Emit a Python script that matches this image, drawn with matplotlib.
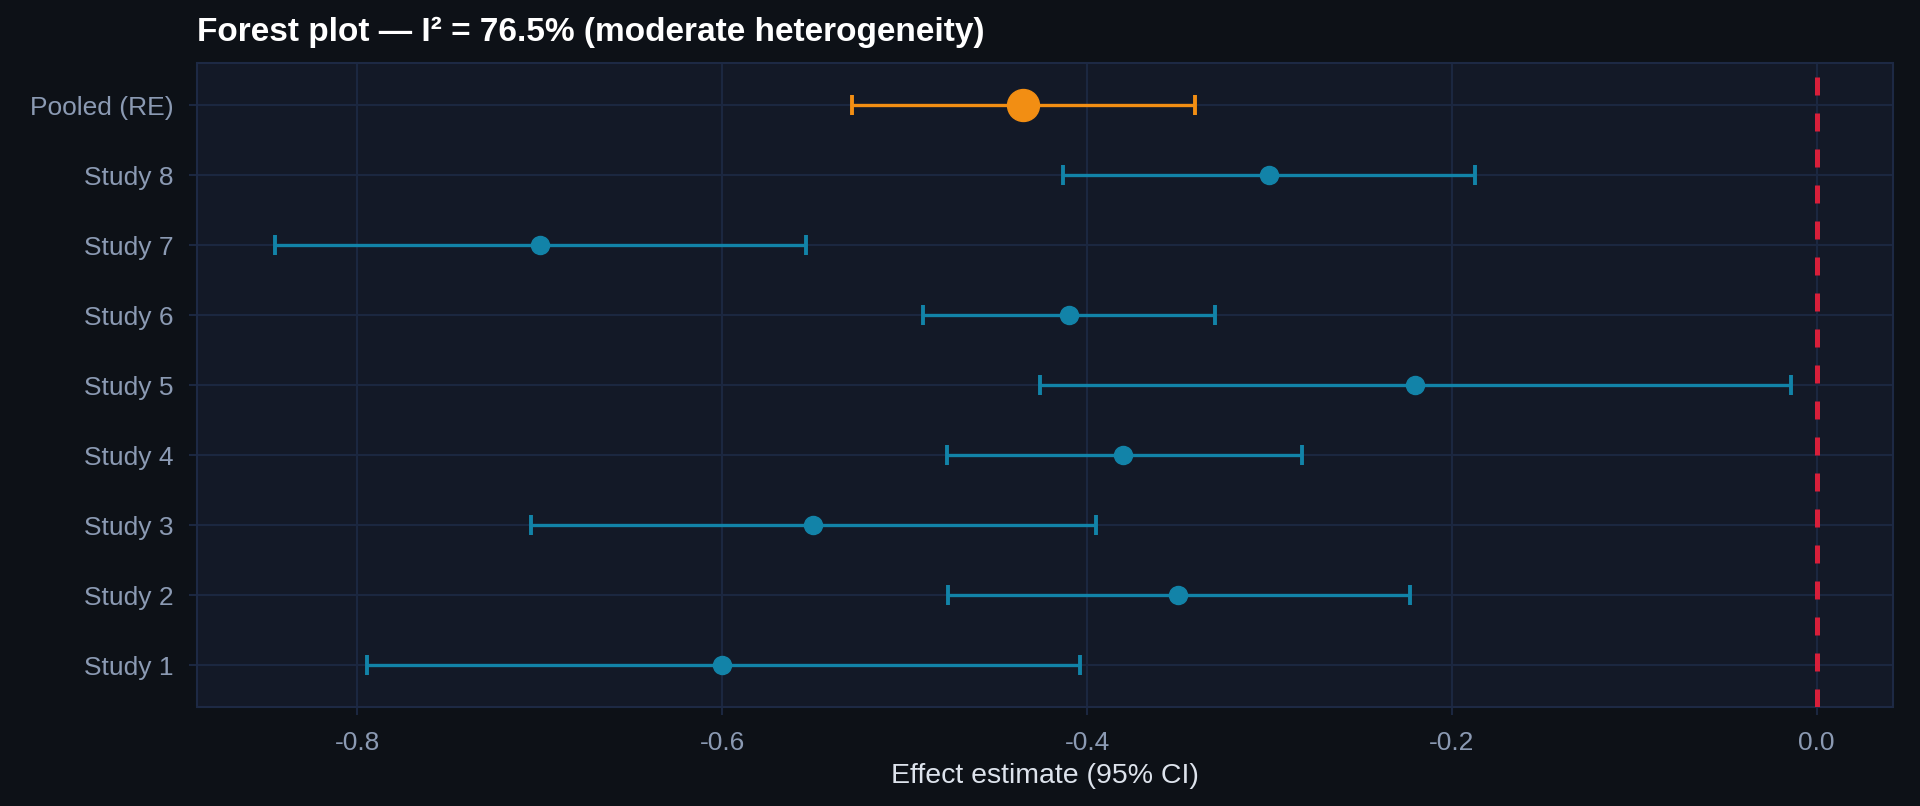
import numpy as np
import matplotlib.pyplot as plt

# study effects and 95% CI
studies = ["Study 1", "Study 2", "Study 3", "Study 4",
           "Study 5", "Study 6", "Study 7", "Study 8"]
effect = [-0.60, -0.35, -0.55, -0.38, -0.22, -0.41, -0.70, -0.30]
ci_low = [-0.795, -0.476, -0.705, -0.477, -0.426, -0.490, -0.845, -0.413]
ci_high = [-0.404, -0.223, -0.395, -0.282, -0.014, -0.330, -0.554, -0.187]

pooled_label = "Pooled (RE)"
pooled_effect = -0.435
pooled_low = -0.529
pooled_high = -0.341
i2 = 76.5

BG = "#0d1117"
PANEL = "#131927"
GRID = "#1b2740"
TICK = "#8b9ab3"
STUDY_C = "#1283a8"
POOL_C = "#f28e13"
NULL_C = "#d81f3a"

plt.rcParams['font.family'] = ['Liberation Sans', 'DejaVu Sans']

fig, ax = plt.subplots(figsize=(19.2, 8.06), dpi=100)
fig.patch.set_facecolor(BG)
ax.set_facecolor(PANEL)
fig.subplots_adjust(left=0.1026, right=0.986, top=0.9218, bottom=0.1228)

ypos = np.arange(len(studies))
eff = np.array(effect)
err = np.vstack([eff - np.array(ci_low), np.array(ci_high) - eff])
ax.errorbar(eff, ypos, xerr=err, fmt='o', color=STUDY_C, ecolor=STUDY_C,
            elinewidth=2.4, capsize=7.5, capthick=2.8, markersize=13, zorder=3)

yp = len(studies)
ax.errorbar([pooled_effect], [yp],
            xerr=[[pooled_effect - pooled_low], [pooled_high - pooled_effect]],
            fmt='o', color=POOL_C, ecolor=POOL_C, elinewidth=2.4, capsize=7.5,
            capthick=2.8, markersize=23, zorder=3)

ax.axvline(0, color=NULL_C, lw=3.6, linestyle=(0, (3.6, 3.6)), zorder=4)

ax.set_xlim(-0.888, 0.042)
ax.set_ylim(-0.6, yp + 0.6)
ax.set_yticks(list(ypos) + [yp])
ax.set_yticklabels(studies + [pooled_label])
ax.set_xticks([-0.8, -0.6, -0.4, -0.2, 0.0])
ax.set_xticklabels(["-0.8", "-0.6", "-0.4", "-0.2", "0.0"])

ax.grid(True, color=GRID, lw=1.5, zorder=0)
ax.set_axisbelow(True)
for s in ax.spines.values():
    s.set_color("#1d2944")
    s.set_linewidth(1.5)
ax.tick_params(colors=GRID, labelcolor=TICK, labelsize=19, length=6, width=1.5, pad=11)

ax.set_xlabel("Effect estimate (95% CI)", fontsize=20.5, color="#dde3ec", labelpad=6)
ax.set_title(f"Forest plot — I² = {i2}% (moderate heterogeneity)", loc='left',
             fontsize=24, fontweight='bold', color="white", pad=16)

fig.savefig("out.png", dpi=100, facecolor=BG)
